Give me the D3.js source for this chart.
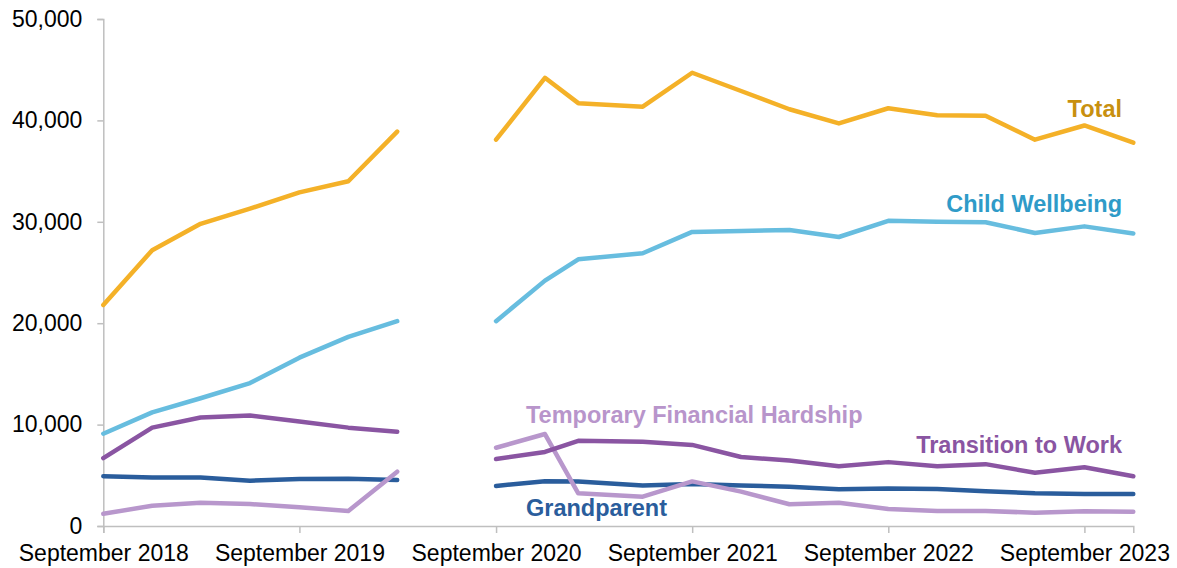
<!DOCTYPE html>
<html>
<head>
<meta charset="utf-8">
<script src="https://cdn.jsdelivr.net/npm/d3@7"></script>
<style>
  body { margin: 0; background: #fff; }
  svg text { font-family: "Liberation Sans", Arial, sans-serif; }
</style>
</head>
<body>
<svg id="chart" width="1177" height="568"></svg>
<script>
// quarterly reporting dates (month index 0 = Jan); Jun 2020 has no data
const dates = [
  [2018, 8], [2018, 11], [2019, 2], [2019, 5], [2019, 8], [2019, 11], [2020, 2], [2020, 5],
  [2020, 8], [2020, 11], [2021, 1], [2021, 5], [2021, 8], [2021, 11], [2022, 2], [2022, 5],
  [2022, 8], [2022, 11], [2023, 2], [2023, 5], [2023, 8], [2023, 11]
].map(d => new Date(d[0], d[1], 1));

const total = [21800, 27200, 29800, 31300, 32900, 34000, 38900, null,
  38100, 44200, 41700, 41350, 44700, 42900, 41100, 39700,
  41200, 40500, 40450, 38100, 39500, 37800];
const childWellbeing = [9100, 11200, 12600, 14100, 16600, 18650, 20200, null,
  20200, 24200, 26300, 26900, 29000, 29100, 29200, 28500,
  30100, 30000, 29950, 28900, 29550, 28850];
const transitionToWork = [6700, 9700, 10700, 10900, 10300, 9700, 9300, null,
  6600, 7300, 8400, 8300, 8000, 6800, 6450, 5900,
  6300, 5900, 6100, 5250, 5800, 4900];
const grandparent = [4900, 4780, 4780, 4470, 4630, 4650, 4540, null,
  3950, 4420, 4400, 4000, 4130, 4000, 3880, 3620,
  3700, 3640, 3430, 3220, 3160, 3150];
const hardship = [1200, 2000, 2300, 2170, 1840, 1480, 5360, null,
  7720, 9070, 3220, 2890, 4400, 3390, 2140, 2300,
  1680, 1480, 1480, 1310, 1450, 1400];

const yTicks = [0, 10000, 20000, 30000, 40000, 50000];
const xTicks = [2018, 2019, 2020, 2021, 2022, 2023].map(y => new Date(y, 8, 1));

const series = [
  { name: 'Grandparent', values: grandparent, color: '#2a5d9c', label: '#2a5d9c', lx: 526, ly: 516, anchor: 'start' },
  { name: 'Temporary Financial Hardship', values: hardship, color: '#b897cc', label: '#b895cb', lx: 526, ly: 423, anchor: 'start' },
  { name: 'Transition to Work', values: transitionToWork, color: '#8a55a2', label: '#8a55a2', lx: 1122, ly: 453, anchor: 'end' },
  { name: 'Child Wellbeing', values: childWellbeing, color: '#67bddf', label: '#2f9bc8', lx: 1122, ly: 212, anchor: 'end' },
  { name: 'Total', values: total, color: '#f4b128', label: '#c8900f', lx: 1122, ly: 117, anchor: 'end' }
];

const svg = d3.select('#chart');

const x = d3.scaleTime()
  .domain([dates[0], dates[dates.length - 1]])
  .range([103.3, 1133.3]);

const y = d3.scaleLinear()
  .domain([0, 50000])
  .range([526, 19]);

// axes
const yAxis = svg.append('g')
  .attr('transform', 'translate(103.3,0)')
  .call(d3.axisLeft(y)
    .tickValues(yTicks)
    .tickSize(6)
    .tickPadding(15)
    .tickFormat(d3.format(',')));

const xAxis = svg.append('g')
  .attr('transform', 'translate(0,526)')
  .call(d3.axisBottom(x)
    .tickValues(xTicks)
    .tickSize(7)
    .tickPadding(12)
    .tickFormat(d3.timeFormat('September %Y')));

[yAxis, xAxis].forEach(ax => {
  ax.select('.domain').attr('stroke', '#bfbfbf').attr('stroke-width', 1.5);
  ax.selectAll('.tick line').attr('stroke', '#bfbfbf').attr('stroke-width', 1.5);
  ax.selectAll('.tick text')
    .attr('fill', '#000')
    .style('font-size', '23px');
});

// lines
const line = d3.line()
  .defined(d => d.v !== null)
  .x(d => x(d.date))
  .y(d => y(d.v));

svg.append('g')
  .selectAll('path')
  .data(series)
  .enter().append('path')
  .attr('fill', 'none')
  .attr('stroke', d => d.color)
  .attr('stroke-width', 4.5)
  .attr('stroke-linejoin', 'round')
  .attr('stroke-linecap', 'round')
  .attr('d', d => line(d.values.map((v, i) => ({ date: dates[i], v: v }))));

// series labels
svg.append('g')
  .selectAll('text')
  .data(series)
  .enter().append('text')
  .attr('x', d => d.lx)
  .attr('y', d => d.ly)
  .attr('text-anchor', d => d.anchor)
  .attr('fill', d => d.label)
  .style('font-size', '23.5px')
  .style('font-weight', 'bold')
  .text(d => d.name);
</script>
</body>
</html>
